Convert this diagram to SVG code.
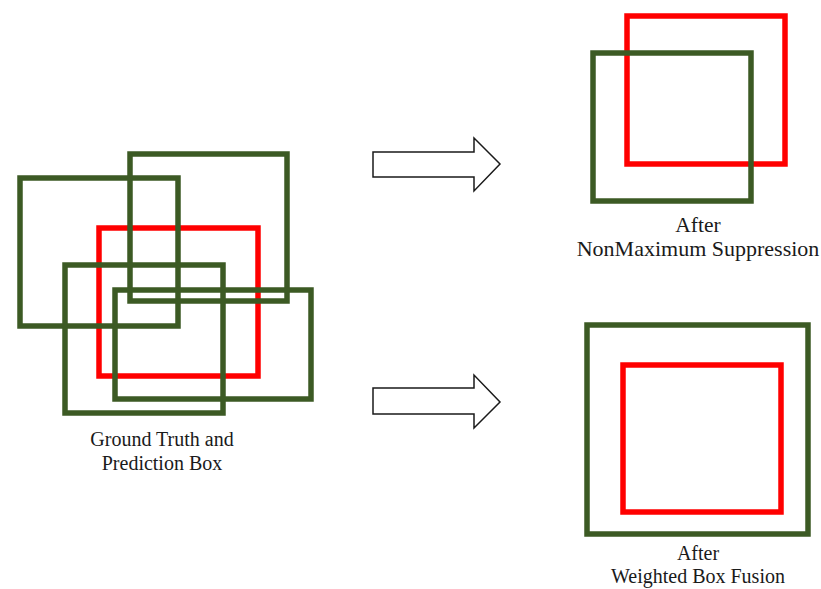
<svg xmlns="http://www.w3.org/2000/svg" width="821" height="589" viewBox="0 0 821 589">
<style>
.g{fill:none;stroke:#3c5a24;stroke-width:5.5}
.r{fill:none;stroke:#ff0000;stroke-width:5.5}
.a{fill:#ffffff;stroke:#1a1a1a;stroke-width:1.5;stroke-linejoin:miter}
text{font-family:"Liberation Serif","Times New Roman",serif;fill:#1a1a1a;text-anchor:middle}
</style>
<rect width="821" height="589" fill="#ffffff"/>
<g id="ground-truth">
<rect class="r" x="99" y="228" width="159" height="148"/>
<rect class="g" x="20" y="178" width="158" height="148"/>
<rect class="g" x="130" y="154" width="157" height="147"/>
<rect class="g" x="65" y="265" width="158" height="148"/>
<rect class="g" x="115" y="290" width="196" height="109"/>
<text x="162" y="446" font-size="20">Ground Truth and</text>
<text x="162" y="470" font-size="20">Prediction Box</text>
</g>
<g id="nms">
<rect class="r" x="627" y="16" width="158" height="148"/>
<rect class="g" x="593" y="53" width="158" height="148"/>
<text x="698" y="232" font-size="21.5">After</text>
<text x="698" y="256" font-size="22">NonMaximum Suppression</text>
</g>
<g id="wbf">
<rect class="g" x="587" y="325" width="221" height="209"/>
<rect class="r" x="623" y="365" width="158" height="147"/>
<text x="698" y="560" font-size="20">After</text>
<text x="698" y="583" font-size="20">Weighted Box Fusion</text>
</g>
<g id="connectors">
<path class="a" d="M373,152 L474,152 L474,138 L500,164 L474,191 L474,177 L373,177 Z"/>
<path class="a" d="M373,388 L474,388 L474,375 L500,402 L474,428 L474,414 L373,414 Z"/>
</g>
</svg>
